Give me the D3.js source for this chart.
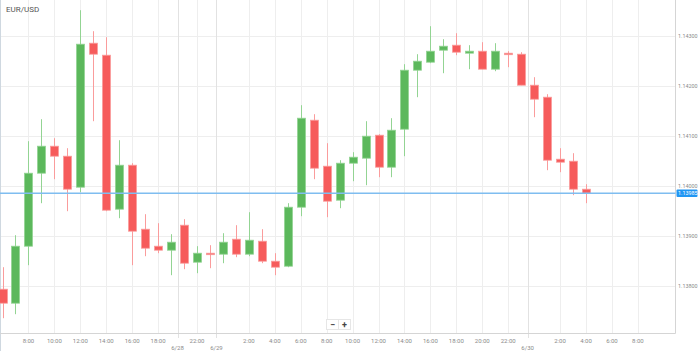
<!DOCTYPE html>
<html lang="en">
<head>
  <meta charset="UTF-8">
  <title>EUR/USD</title>
  <style>
      body { margin: 0; background: #fff; }
      text { font-family: Roboto, "Liberation Sans", sans-serif; }
      .grid line { stroke: #eeeeee; stroke-width: 1px; shape-rendering: crispEdges; }
      .grid line.date { stroke: #e2e2e2; }
      .btn rect { fill: #fff; stroke: #e6e6e6; shape-rendering: crispEdges; }
  </style>
</head>
<body>
<div id="chart"></div>
<script src="https://d3js.org/d3.v7.min.js"></script>
<script>
  // hourly candles, 6/28 06:00 onward (index based, one hour missing in the 6/28 evening)
  const open  = [1.13793, 1.13765, 1.13879, 1.14025, 1.14079, 1.14059, 1.13997, 1.14285, 1.14261, 1.13953,
                 1.14041, 1.13913, 1.13879, 1.13871, 1.13921, 1.13847, 1.13865, 1.13863, 1.13893, 1.13863,
                 1.13889, 1.13849, 1.13839, 1.13957, 1.14131, 1.14039, 1.13971, 1.14045, 1.14055, 1.14101,
                 1.14037, 1.14113, 1.14231, 1.14247, 1.14271, 1.14281, 1.14265, 1.14269, 1.14233, 1.14265,
                 1.14263, 1.14201, 1.14177, 1.14053, 1.14049, 1.13993];
  const high  = [1.13837, 1.13901, 1.14089, 1.14133, 1.14095, 1.14075, 1.14351, 1.14309, 1.14297, 1.14091,
                 1.14045, 1.13943, 1.13925, 1.13903, 1.13933, 1.13879, 1.13881, 1.13905, 1.13921, 1.13947,
                 1.13913, 1.13865, 1.13965, 1.14161, 1.14143, 1.14085, 1.14051, 1.14067, 1.14129, 1.14103,
                 1.14135, 1.14243, 1.14263, 1.14319, 1.14293, 1.14305, 1.14281, 1.14287, 1.14285, 1.14269,
                 1.14267, 1.14217, 1.14183, 1.14075, 1.14065, 1.14003];
  const low   = [1.13735, 1.13743, 1.13841, 1.13965, 1.14013, 1.13949, 1.13987, 1.14129, 1.13949, 1.13935,
                 1.13841, 1.13859, 1.13865, 1.13821, 1.13833, 1.13825, 1.13835, 1.13845, 1.13857, 1.13859,
                 1.13845, 1.13821, 1.13837, 1.13939, 1.14013, 1.13937, 1.13955, 1.14009, 1.14001, 1.14017,
                 1.14017, 1.14059, 1.14177, 1.14245, 1.14225, 1.14261, 1.14233, 1.14233, 1.14229, 1.14237,
                 1.14201, 1.14137, 1.14031, 1.14027, 1.13981, 1.13965];
  const close = [1.13765, 1.13879, 1.14025, 1.14079, 1.14059, 1.13993, 1.14283, 1.14263, 1.13951, 1.14041,
                 1.13909, 1.13875, 1.13871, 1.13887, 1.13845, 1.13865, 1.13863, 1.13887, 1.13863, 1.13891,
                 1.13849, 1.13837, 1.13957, 1.14135, 1.14035, 1.13969, 1.14045, 1.14057, 1.14099, 1.14037,
                 1.14111, 1.14231, 1.14249, 1.14269, 1.14279, 1.14267, 1.14269, 1.14233, 1.14269, 1.14263,
                 1.14201, 1.14173, 1.14051, 1.14047, 1.13993, 1.13985];

  const hourTickIdx    = [2, 4, 6, 8, 10, 12, 15, 19, 21, 23, 25, 27, 29, 31, 33, 35, 37, 39, 43, 45, 47, 49];
  const hourTickLabels = ["8:00", "10:00", "12:00", "14:00", "16:00", "18:00", "22:00", "2:00", "4:00", "6:00",
                          "8:00", "10:00", "12:00", "14:00", "16:00", "18:00", "20:00", "22:00", "2:00", "4:00",
                          "6:00", "8:00"];
  const dateTickIdx    = [13.5, 16.5, 40.5];
  const dateTickLabels = ["6/28", "6/29", "6/30"];
  const priceTicks     = [1.138, 1.139, 1.140, 1.141, 1.142, 1.143];
  const lastPrice      = 1.13985;

  const W = 699, H = 351;
  const plotRight = 675.5, plotBottom = 333.5;

  const svg = d3.select("#chart").append("svg")
    .attr("width", W)
    .attr("height", H);

  const x = d3.scaleLinear().domain([0, 45]).range([2.5, 586]);
  const y = d3.scaleLinear().domain([1.138, 1.143]).range([285.7, 35.7]);

  // grid
  const grid = svg.append("g").attr("class", "grid");
  grid.selectAll(".h").data(priceTicks).enter().append("line")
    .attr("x1", 0).attr("x2", plotRight)
    .attr("y1", d => Math.round(y(d)) + 0.5).attr("y2", d => Math.round(y(d)) + 0.5);
  grid.selectAll(".v").data(hourTickIdx).enter().append("line")
    .attr("x1", d => Math.round(x(d)) + 0.5).attr("x2", d => Math.round(x(d)) + 0.5)
    .attr("y1", 0).attr("y2", plotBottom);
  grid.selectAll(".d").data(dateTickIdx).enter().append("line")
    .attr("class", "date")
    .attr("x1", d => Math.round(x(d)) + 0.5).attr("x2", d => Math.round(x(d)) + 0.5)
    .attr("y1", 0).attr("y2", plotBottom + 4);

  // left border of the container
  svg.append("line")
    .attr("x1", 0.5).attr("x2", 0.5).attr("y1", 0).attr("y2", H)
    .attr("stroke", "#cfd8e0");

  // axis lines
  svg.append("line")
    .attr("x1", 0).attr("x2", plotRight).attr("y1", plotBottom).attr("y2", plotBottom)
    .attr("stroke", "#d5d5d5");
  svg.append("line")
    .attr("x1", plotRight).attr("x2", plotRight).attr("y1", 0).attr("y2", plotBottom)
    .attr("stroke", "#d5d5d5");

  // candles
  const idx = d3.range(open.length);
  const up = "#5cb85c", down = "#f65b5b";
  const upEdge = "#93d493", downEdge = "#fa9c9c";
  const bw = 8;

  const candles = svg.append("g");
  candles.selectAll(".wick").data(idx).enter().append("line")
    .attr("x1", i => Math.round(x(i)) + 0.5).attr("x2", i => Math.round(x(i)) + 0.5)
    .attr("y1", i => y(high[i])).attr("y2", i => y(low[i]))
    .attr("stroke", i => close[i] >= open[i] ? upEdge : downEdge)
    .attr("stroke-width", 1);

  candles.selectAll(".body").data(idx).enter().append("rect")
    .attr("x", i => Math.round(x(i)) - bw / 2 + 0.5)
    .attr("width", bw)
    .attr("y", i => y(Math.max(open[i], close[i])))
    .attr("height", i => Math.max(1.5, Math.abs(y(open[i]) - y(close[i]))))
    .attr("fill", i => close[i] >= open[i] ? up : down)
    .attr("stroke", i => close[i] >= open[i] ? upEdge : downEdge)
    .attr("stroke-width", 0.8);

  // current price line
  svg.append("line")
    .attr("x1", 0).attr("x2", plotRight)
    .attr("y1", y(lastPrice)).attr("y2", y(lastPrice))
    .attr("stroke", "#7fbdf0").attr("stroke-width", 1.5);

  // price axis labels
  svg.selectAll(".pl").data(priceTicks).enter().append("text")
    .attr("x", 678).attr("y", d => y(d) + 2)
    .style("font-size", "5.4px").style("fill", "#8a8a8a")
    .text(d => d3.format(".5f")(d));

  const py = y(lastPrice);
  svg.append("rect")
    .attr("x", 676.5).attr("y", py - 3.8).attr("width", 21).attr("height", 7.5)
    .attr("rx", 1).attr("fill", "#2196f3");
  svg.append("text")
    .attr("x", 678).attr("y", py + 2)
    .style("font-size", "5.4px").style("fill", "#fff")
    .text(d3.format(".5f")(lastPrice));

  // time axis labels
  svg.selectAll(".tl").data(hourTickIdx).enter().append("text")
    .attr("x", d => x(d)).attr("y", 342.5)
    .attr("text-anchor", "middle")
    .style("font-size", "6px").style("fill", "#8a8a8a")
    .text((d, i) => hourTickLabels[i]);
  svg.selectAll(".dl").data(dateTickIdx).enter().append("text")
    .attr("x", d => x(d)).attr("y", 349.5)
    .attr("text-anchor", "middle")
    .style("font-size", "6px").style("fill", "#8a8a8a")
    .text((d, i) => dateTickLabels[i]);

  // title
  svg.append("text")
    .attr("x", 6).attr("y", 12)
    .style("font-size", "8px").style("fill", "#555")
    .text("EUR/USD");

  // zoom buttons
  const btn = svg.append("g").attr("class", "btn");
  [["−", 326.5], ["+", 338.5]].forEach(([t, bx]) => {
    btn.append("rect").attr("x", bx).attr("y", 319.5).attr("width", 12).attr("height", 10);
    btn.append("text").attr("x", bx + 6).attr("y", 327.5)
      .attr("text-anchor", "middle")
      .style("font-size", "9px").style("font-weight", "bold").style("fill", "#444")
      .text(t);
  });
</script>
</body>
</html>
